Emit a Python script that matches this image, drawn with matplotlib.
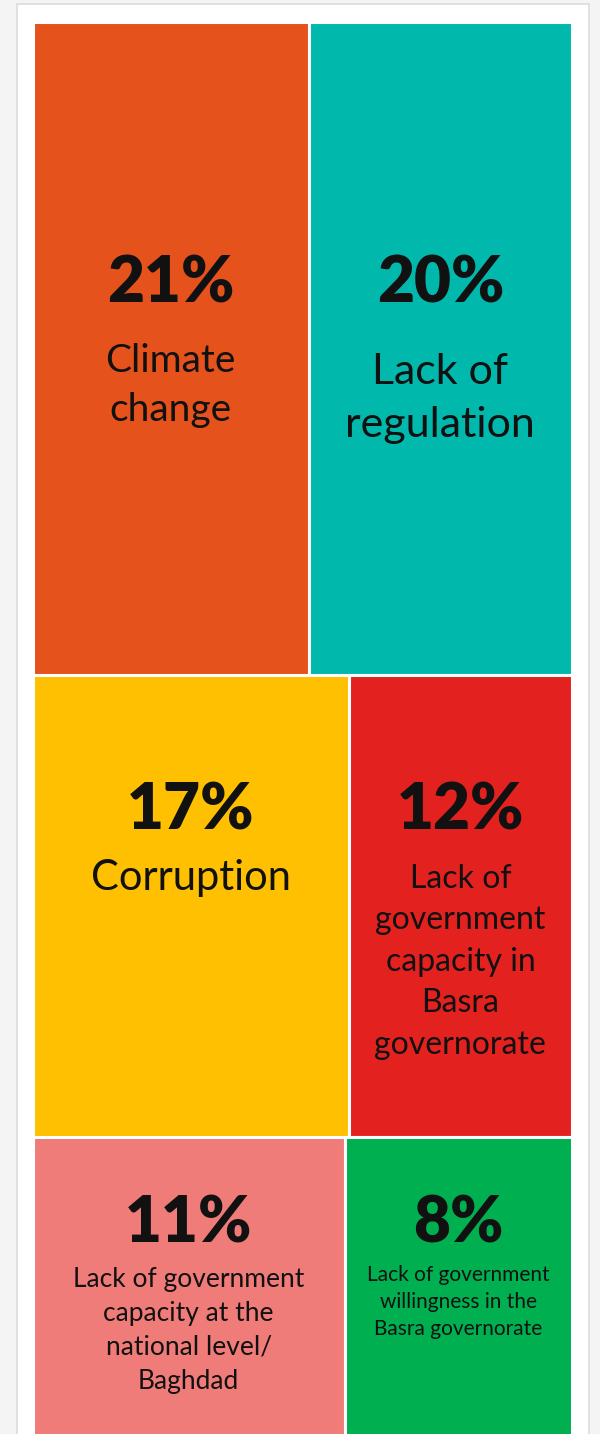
import matplotlib.pyplot as plt
from matplotlib.patches import Rectangle

# data
shares = [21, 20, 17, 12, 11, 8]
labels = ['Climate\nchange',
          'Lack of\nregulation',
          'Corruption',
          'Lack of\ngovernment\ncapacity in\nBasra\ngovernorate',
          'Lack of government\ncapacity at the\nnational level/\nBaghdad',
          'Lack of government\nwillingness in the\nBasra governorate']
colors = ['#e6521b', '#01b8ad', '#fec000', '#e3221f', '#f07c79', '#00b050']
rows = [[0, 1], [2, 3], [4, 5]]

# text placement inside each box (px from box top): pct baseline, label baseline, line gap, label size
pct_off = [281, 281, 155, 155, 106, 106]
lab_off = [350, 363, 215, 213, 150, 144]
lab_gap = [49, 53, 0, 41.5, 34, 27]
lab_size = [28, 31, 30, 23, 19, 15]

W, H = 600, 1434
fig = plt.figure(figsize=(W / 100, H / 100), dpi=100)
fig.patch.set_facecolor('#f4f4f4')
ax = fig.add_axes([0, 0, 1, 1])
ax.set_xlim(0, W)
ax.set_ylim(H, 0)
ax.axis('off')

# white card
ax.add_patch(Rectangle((16.5, 4), 572.5, H, facecolor='white', edgecolor='#dcdcdc', lw=1.2))

x0, y0, tw, th = 32.5, 21.5, 539.5, 1418
total = sum(shares)
y = y0
for row in rows:
    rsum = sum(shares[i] for i in row)
    rh = th * rsum / total
    x = x0
    for i in row:
        w = tw * shares[i] / rsum
        ax.add_patch(Rectangle((x, y), w, rh, facecolor=colors[i], edgecolor='white', lw=2.2))
        cx = x + w / 2
        ax.text(cx, y + pct_off[i], f'{shares[i]}%', ha='center', va='baseline',
                fontsize=46, fontweight='heavy', family='Lato', color='#111111')
        for k, line in enumerate(labels[i].split('\n')):
            ax.text(cx, y + lab_off[i] + k * lab_gap[i], line, ha='center', va='baseline',
                    fontsize=lab_size[i], family='Lato', color='#111111')
        x += w
    y += rh

fig.savefig('out.png', dpi=100, facecolor=fig.get_facecolor())
